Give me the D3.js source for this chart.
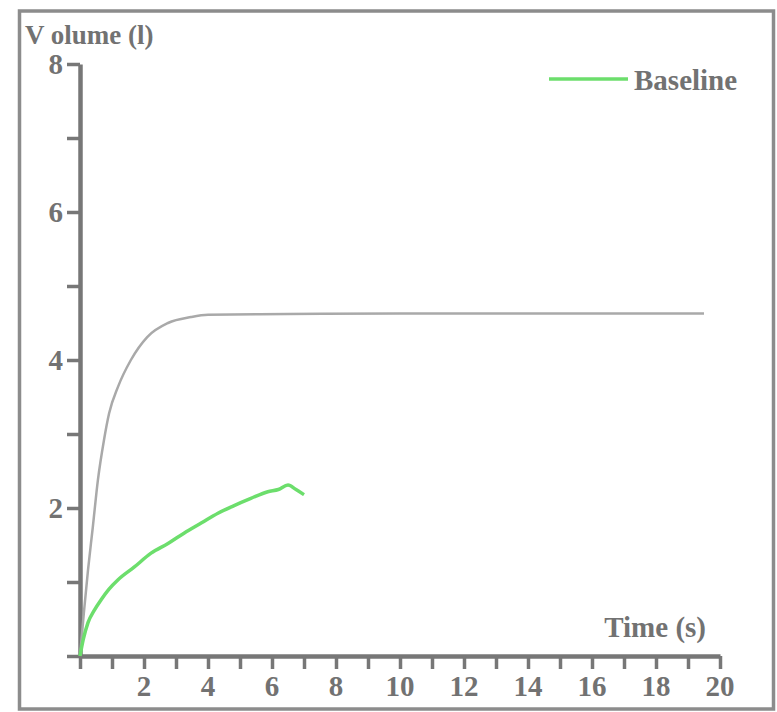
<!DOCTYPE html>
<html>
<head>
<meta charset="utf-8">
<script src="https://cdn.jsdelivr.net/npm/d3@7"></script>
<style>
  body { margin: 0; background: #fff; }
  text { font-family: "Liberation Serif", serif; font-weight: bold; fill: #727272; }
</style>
</head>
<body>
<svg width="777" height="712"></svg>
<script>
// predicted curve (grey, no legend entry)
var predTime = [0, 0.12, 0.25, 0.4, 0.56, 0.75, 0.91, 1.19, 1.59, 2.1, 2.75, 3.47, 4.0, 6.5, 10, 15, 19.5];
var predVolume = [0, 0.58, 1.16, 1.74, 2.38, 2.92, 3.28, 3.64, 4.0, 4.31, 4.5, 4.58, 4.61, 4.62, 4.63, 4.63, 4.63];

// baseline curve (green)
var baseTime = [0, 0.1, 0.25, 0.45, 0.66, 0.9, 1.19, 1.69, 2.22, 2.75, 3.25, 3.8, 4.31, 4.8, 5.34, 5.87, 6.2, 6.5, 6.75, 7.0];
var baseVolume = [0, 0.22, 0.45, 0.62, 0.76, 0.9, 1.03, 1.2, 1.39, 1.52, 1.66, 1.8, 1.93, 2.03, 2.13, 2.22, 2.25, 2.31, 2.25, 2.18];

var xTicks = d3.range(0, 21, 1);
var yTicks = d3.range(0, 9, 1);
var xLabels = [2, 4, 6, 8, 10, 12, 14, 16, 18, 20];
var yLabels = [2, 4, 6, 8];

var svg = d3.select("svg");

// outer frame
svg.append("rect")
    .attr("x", 19.5).attr("y", 11)
    .attr("width", 754).attr("height", 698)
    .attr("fill", "none")
    .attr("stroke", "#8c8c8c")
    .attr("stroke-width", 3.5);

var x = d3.scaleLinear().domain([0, 20]).range([80, 720]);
var y = d3.scaleLinear().domain([0, 8]).range([656, 64]);

var axisColor = "#777";

// x axis
var gx = svg.append("g").attr("transform", "translate(0,656)");
gx.call(d3.axisBottom(x).tickValues(xTicks).tickSize(13).tickSizeOuter(0).tickFormat(""));
gx.select(".domain").attr("stroke", axisColor).attr("stroke-width", 4.5);
gx.selectAll(".tick line").attr("stroke", axisColor).attr("stroke-width", 3.5);
svg.selectAll(".xlab").data(xLabels).enter().append("text")
    .attr("class", "xlab")
    .attr("x", function(d) { return x(d); })
    .attr("y", 696)
    .attr("text-anchor", "middle")
    .style("font-size", "29px")
    .text(function(d) { return d; });

// y axis
var gy = svg.append("g").attr("transform", "translate(80,0)");
gy.call(d3.axisLeft(y).tickValues(yTicks).tickSize(13).tickSizeOuter(0).tickFormat(""));
gy.select(".domain").attr("stroke", axisColor).attr("stroke-width", 4.5);
gy.selectAll(".tick line").attr("stroke", axisColor).attr("stroke-width", 3.5);
svg.selectAll(".ylab").data(yLabels).enter().append("text")
    .attr("class", "ylab")
    .attr("x", 63)
    .attr("y", function(d) { return y(d) + 10; })
    .attr("text-anchor", "end")
    .style("font-size", "29px")
    .text(function(d) { return d; });

// axis titles
svg.append("text").attr("x", 25).attr("y", 44)
    .style("font-size", "27px")
    .text("V olume (l)");
svg.append("text").attr("x", 706).attr("y", 637)
    .attr("text-anchor", "end")
    .style("font-size", "29px")
    .text("Time (s)");

var line = d3.line()
    .x(function(d) { return x(d[0]); })
    .y(function(d) { return y(d[1]); })
    .curve(d3.curveMonotoneX);

svg.append("path")
    .datum(d3.zip(predTime, predVolume))
    .attr("d", line)
    .attr("fill", "none")
    .attr("stroke", "#a9a9a9")
    .attr("stroke-width", 2.5);

svg.append("path")
    .datum(d3.zip(baseTime, baseVolume))
    .attr("d", line)
    .attr("fill", "none")
    .attr("stroke", "#6cde6c")
    .attr("stroke-width", 3.5)
    .attr("stroke-linejoin", "round");

// legend
svg.append("line")
    .attr("x1", 549).attr("x2", 628)
    .attr("y1", 79).attr("y2", 79)
    .attr("stroke", "#6cde6c")
    .attr("stroke-width", 3.5);
svg.append("text").attr("x", 634).attr("y", 90)
    .style("font-size", "29px")
    .text("Baseline");
</script>
</body>
</html>
